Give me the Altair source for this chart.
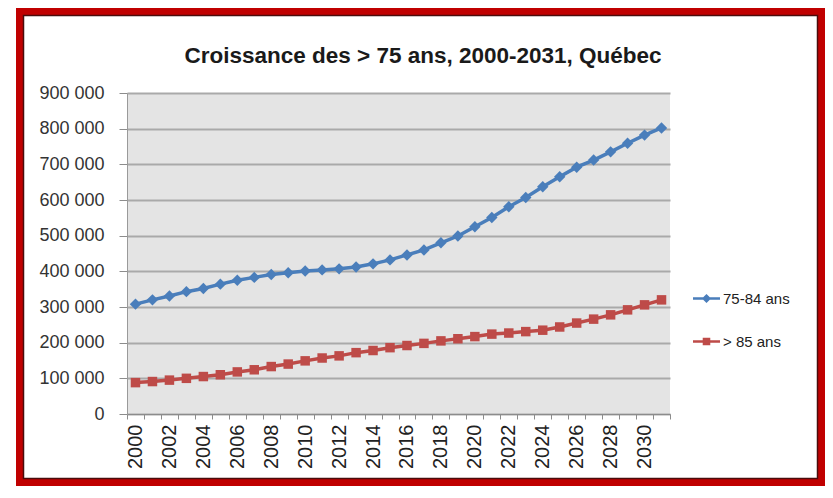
import altair as alt
import pandas as pd

# ---- data ----
years = list(range(2000, 2032))
series_names = ["75-84 ans", "> 85 ans"]
ages_75_84 = [308000, 320000, 331000, 343000, 352000, 364000, 375000, 383000,
              391000, 396000, 401000, 404000, 407000, 412000, 421000, 432000,
              446000, 460000, 480000, 499000, 525000, 551000, 581000, 607000,
              637000, 665000, 692000, 712000, 735000, 759000, 782000, 802000]
ages_85_plus = [88000, 91000, 95000, 100000, 105000, 110000, 118000, 124000,
                133000, 140000, 149000, 157000, 163000, 172000, 178000, 186000,
                192000, 198000, 205000, 211000, 217000, 224000, 227000, 231000,
                235000, 244000, 255000, 266000, 278000, 292000, 306000, 320000]
y_ticks = [0, 100000, 200000, 300000, 400000, 500000, 600000, 700000, 800000, 900000]
title_text = "Croissance des > 75 ans, 2000-2031, Québec"

df = pd.DataFrame({
    "year": years * 2,
    "series": [series_names[0]] * len(years) + [series_names[1]] * len(years),
    "value": ages_75_84 + ages_85_plus,
})

colors = ["#4A7EBB", "#BE4B48"]
# legend symbols: a short line with the marker on it
legend_paths = [
    "M-1,-0.1H1V0.1H-1Z M0,-0.34L0.34,0L0,0.34L-0.34,0Z",
    "M-1,-0.1H1V0.1H-1Z M-0.28,-0.28H0.28V0.28H-0.28Z",
]

FONT = "Liberation Sans"

legend_def = alt.Legend(
    title=None, orient="none", legendX=566, legendY=192,
    symbolSize=729, symbolStrokeWidth=0, labelFontSize=15, labelFont=FONT,
    labelColor="#222222", rowPadding=21, labelOffset=3,
)

x_enc = alt.X(
    "year:O",
    scale=alt.Scale(type="band", paddingInner=0, paddingOuter=0),
    axis=alt.Axis(
        title=None, labelAngle=-90, grid=False,
        labelExpr="datum.value % 2 == 0 ? datum.label : ''",
        tickBand="extent", tickSize=5, tickColor="#8c8c8c", domainColor="#8c8c8c",
        labelFontSize=20, labelFont=FONT, labelColor="#222222", labelPadding=5,
    ),
)
y_enc = alt.Y(
    "value:Q",
    scale=alt.Scale(domain=[0, 900000], nice=False),
    axis=alt.Axis(
        title=None, values=y_ticks,
        labelExpr="replace(format(datum.value, ','), ',', ' ')",
        grid=True, gridColor="#a9a9a9", gridWidth=1.8,
        tickSize=8, tickColor="#8c8c8c", domainColor="#9a9a9a",
        labelFontSize=18, labelFont=FONT, labelColor="#333333", labelPadding=15,
    ),
)
color_enc = alt.Color("series:N", scale=alt.Scale(domain=series_names, range=colors),
                      legend=legend_def)

base = alt.Chart(df)

lines = base.mark_line(strokeWidth=3.5).encode(x=x_enc, y=y_enc, color=color_enc)

points = base.mark_point(filled=True, opacity=1).encode(
    x=x_enc, y=y_enc, color=color_enc,
    shape=alt.condition(alt.datum.series == series_names[0], alt.value("diamond"), alt.value("square")),
    size=alt.condition(alt.datum.series == series_names[0], alt.value(130), alt.value(90)),
)

legend_layer = base.mark_point(filled=True, opacity=0).encode(
    x=x_enc, y=y_enc, color=color_enc,
    shape=alt.Shape("series:N", scale=alt.Scale(domain=series_names, range=legend_paths),
                    legend=legend_def),
)

frame_df = pd.DataFrame({"k": [0]})
frame = alt.Chart(frame_df).mark_rect(filled=False, stroke="#C00000", strokeWidth=7).encode(
    x=alt.value(-107.5), x2=alt.value(694.5), y=alt.value(-81.5), y2=alt.value(389.5)
)
frame_inner = alt.Chart(frame_df).mark_rect(filled=False, stroke="#4a0c0c", strokeWidth=1.5).encode(
    x=alt.value(-103.5), x2=alt.value(690.5), y=alt.value(-77.5), y2=alt.value(385.5)
)

title_mark = alt.Chart(frame_df).mark_text(
    text=title_text, font=FONT, fontSize=22.5, fontWeight="bold", color="#1a1a1a",
    align="center", baseline="alphabetic",
).encode(x=alt.value(296), y=alt.value(-30))

chart = alt.layer(lines, points, legend_layer, frame, frame_inner, title_mark).properties(
    width=543, height=321,
    autosize=alt.AutoSizeParams(type="none"),
    padding={"left": 119, "top": 85, "right": 155, "bottom": 72},
    background="white",
).configure_view(fill="#e4e4e4", strokeWidth=0)

chart.save("out.html", embed_options={"renderer": "svg", "actions": False})
